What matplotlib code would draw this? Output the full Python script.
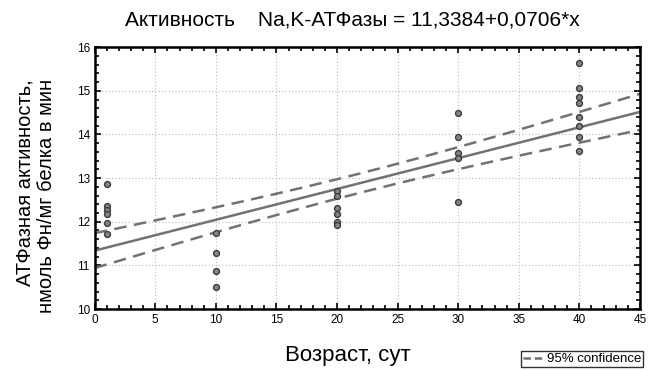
import numpy as np
import matplotlib
matplotlib.use("Agg")
import matplotlib.pyplot as plt
from matplotlib.ticker import MultipleLocator
from matplotlib.lines import Line2D

plt.rcParams["font.family"] = ["Liberation Sans", "DejaVu Sans"]

# возраст (сут) и активность Na,K-АТФазы
age_1 = [1, 1, 1, 1, 1, 1]
act_1 = [12.86, 12.36, 12.27, 12.17, 11.98, 11.71]
age_10 = [10, 10, 10, 10]
act_10 = [11.74, 11.28, 10.87, 10.50]
age_20 = [20, 20, 20, 20, 20, 20]
act_20 = [12.70, 12.58, 12.31, 12.18, 12.0, 11.92]
age_30 = [30, 30, 30, 30, 30]
act_30 = [14.50, 13.93, 13.58, 13.45, 12.45]
age_40 = [40, 40, 40, 40, 40, 40, 40, 40]
act_40 = [15.63, 15.07, 14.86, 14.73, 14.39, 14.19, 13.93, 13.63]

# уравнение регрессии
intercept = 11.3384
slope = 0.0706
# остаточное СКО для полосы 95% доверия
resid_sd = 0.58
t_crit = 2.052  # t(0.975, df=27)

x = np.array(age_1 + age_10 + age_20 + age_30 + age_40, dtype=float)
y = np.array(act_1 + act_10 + act_20 + act_30 + act_40)

n = len(x)
sxx = np.sum((x - x.mean()) ** 2)

xs = np.linspace(0, 45, 200)
fit = intercept + slope * xs
half = t_crit * resid_sd * np.sqrt(1.0 / n + (xs - x.mean()) ** 2 / sxx)

fig = plt.figure(figsize=(6.53, 3.71), dpi=100)
ax = fig.add_axes([0.145, 0.167, 0.835, 0.706])

gray = "#727272"
ax.plot(xs, fit, color=gray, lw=1.8)
ax.plot(xs, fit + half, color=gray, lw=1.8, ls=(0, (5, 3)))
ax.plot(xs, fit - half, color=gray, lw=1.8, ls=(0, (5, 3)))
ax.scatter(x, y, s=18, facecolor="#858585", edgecolor="#3c3c3c", lw=1.0, zorder=3)

ax.set_xlim(0, 45)
ax.set_ylim(10, 16)
ax.xaxis.set_major_locator(MultipleLocator(5))
ax.xaxis.set_minor_locator(MultipleLocator(1))
ax.yaxis.set_major_locator(MultipleLocator(1))
ax.yaxis.set_minor_locator(MultipleLocator(0.2))
ax.tick_params(which="both", direction="in", top=True, right=True,
               labelsize=8.5, color="black", width=1.2)
ax.tick_params(which="major", length=4)
ax.tick_params(which="minor", length=3)
ax.grid(True, which="major", ls=(0, (1, 2)), color="#bbbbbb", lw=0.8)
for sp in ax.spines.values():
    sp.set_linewidth(1.8)

fig.text(0.54, 0.945, "Активность    Na,K-АТФазы = 11,3384+0,0706*x",
         ha="center", va="center", fontsize=15)
fig.text(0.533, 0.043, "Возраст, сут", ha="center", va="center", fontsize=16)
fig.text(0.055, 0.472, "АТФазная активность,\nнмоль Фн/мг белка в мин",
         ha="center", va="center", rotation=90, fontsize=14.5,
         linespacing=1.15, multialignment="right")

handle = Line2D([], [], color=gray, lw=1.8, ls=(0, (3, 1.5)))
fig.legend([handle], ["95% confidence"], loc="lower right",
           bbox_to_anchor=(0.985, 0.01), fontsize=9.5, frameon=True,
           fancybox=False, edgecolor="black", handlelength=1.5,
           borderpad=0.15, handletextpad=0.3, borderaxespad=0.0)

fig.savefig("out.png", dpi=100)
